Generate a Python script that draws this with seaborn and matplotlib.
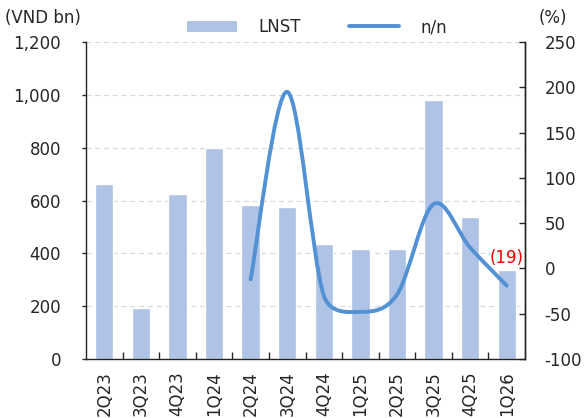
import numpy as np
import matplotlib
matplotlib.use('Agg')
import matplotlib.pyplot as plt
import seaborn as sns
from matplotlib.path import Path
from matplotlib.patches import PathPatch, Patch
from matplotlib.lines import Line2D
from matplotlib.ticker import FuncFormatter

quarters = ['2Q23', '3Q23', '4Q23', '1Q24', '2Q24', '3Q24', '4Q24',
            '1Q25', '2Q25', '3Q25', '4Q25', '1Q26']
lnst = [662, 193, 625, 799, 583, 575, 435, 416, 416, 980, 537, 337]
yoy_quarters = ['2Q24', '3Q24', '4Q24', '1Q25', '2Q25', '3Q25', '4Q25', '1Q26']
yoy = [-12, 195, -30, -48, -29, 71, 23, -19]

bar_color = '#AFC3E6'
line_color = '#5291D3'

sns.set_style('white')
plt.rcParams['font.family'] = ['DejaVu Sans']
plt.rcParams['font.size'] = 12

fig = plt.figure(figsize=(5.85, 4.18), dpi=100)
ax = fig.add_axes([86 / 585, 1 - 359 / 418, (525 - 86) / 585, (359 - 42) / 418])

sns.barplot(x=quarters, y=lnst, color=bar_color, saturation=1, width=0.5, ax=ax, zorder=2)
ax.set_xlim(-0.5, len(quarters) - 0.5)
ax.set_ylim(0, 1200)
ax.set_yticks(np.arange(0, 1201, 200))
ax.yaxis.set_major_formatter(FuncFormatter(lambda v, p: f'{int(v):,}'))
ax.set_axisbelow(True)
ax.yaxis.grid(True, linestyle=(0, (4, 3)), color='#D9D9D9', lw=0.9)
ax.set_xlabel('')
ax.set_ylabel('')
ax.tick_params(axis='y', direction='out', length=3, width=1, pad=15, labelsize=12, left=True)
ax.set_xticks(range(len(quarters)))
ax.set_xticklabels(quarters, rotation=90)
ax.tick_params(axis='x', which='major', length=0, pad=9, labelsize=12)
ax.set_xticks(np.arange(0.5, len(quarters) - 1, 1), minor=True)
ax.tick_params(axis='x', which='minor', direction='in', length=5, width=1, bottom=True)
for s in ['left', 'bottom', 'right']:
    ax.spines[s].set_color('#222222')
    ax.spines[s].set_linewidth(1)
ax.spines['top'].set_visible(False)

ax2 = ax.twinx()
ax2.set_ylim(-100, 250)
ax2.set_yticks(np.arange(-100, 251, 50))
ax2.set_yticklabels([str(v) for v in range(-100, 251, 50)])
ax2.tick_params(axis='y', direction='in', length=4, width=1, pad=14, labelsize=12)
ax2.spines['top'].set_visible(False)
ax2.spines['right'].set_color('#222222')
ax2.spines['right'].set_linewidth(1)
ax2.spines['left'].set_visible(False)
ax2.spines['bottom'].set_visible(False)

# Excel-style smoothed line: Bezier segments, control arms capped at half the segment (screen space)
xs = [quarters.index(q) for q in yoy_quarters]
pts = ax2.transData.transform(np.column_stack([xs, yoy]).astype(float))
ext = np.vstack([pts[0], pts, pts[-1]])
verts = [pts[0]]
codes = [Path.MOVETO]
for i in range(1, len(ext) - 2):
    p0, p1, p2, p3 = ext[i - 1], ext[i], ext[i + 1], ext[i + 2]
    d12 = np.linalg.norm(p2 - p1)
    d02 = np.linalg.norm(p2 - p0)
    d13 = np.linalg.norm(p3 - p1)
    f1 = 1 / 6 if d02 / 6 < d12 / 2 else d12 / 2 / d02
    f2 = 1 / 6 if d13 / 6 < d12 / 2 else d12 / 2 / d13
    verts += [p1 + f1 * (p2 - p0), p2 - f2 * (p3 - p1), p2]
    codes += [Path.CURVE4] * 3
verts = ax2.transData.inverted().transform(np.array(verts))
ax2.add_patch(PathPatch(Path(verts, codes), fill=False, edgecolor=line_color,
                        lw=2.8, capstyle='round', joinstyle='round', zorder=3))

ax2.annotate(f'({abs(yoy[-1])})', xy=(xs[-1], yoy[-1]), xytext=(0, 20),
             textcoords='offset points', ha='center', va='center',
             color='#FF0000', fontsize=12)

handles = [Patch(facecolor=bar_color, edgecolor='none'),
           Line2D([], [], color=line_color, lw=2.8, solid_capstyle='round')]
fig.legend(handles, ['LNST', 'n/n'], loc='center', bbox_to_anchor=(0.542, 0.935),
           ncol=2, frameon=False, fontsize=12, handlelength=3.0, handleheight=0.7,
           handletextpad=1.3, columnspacing=2.9)

fig.text(5 / 585, 1 - 18 / 418, '(VND bn)', ha='left', va='center', fontsize=12)
fig.text(553 / 585, 1 - 18 / 418, '(%)', ha='center', va='center', fontsize=12)

fig.savefig('out.png', dpi=100)
